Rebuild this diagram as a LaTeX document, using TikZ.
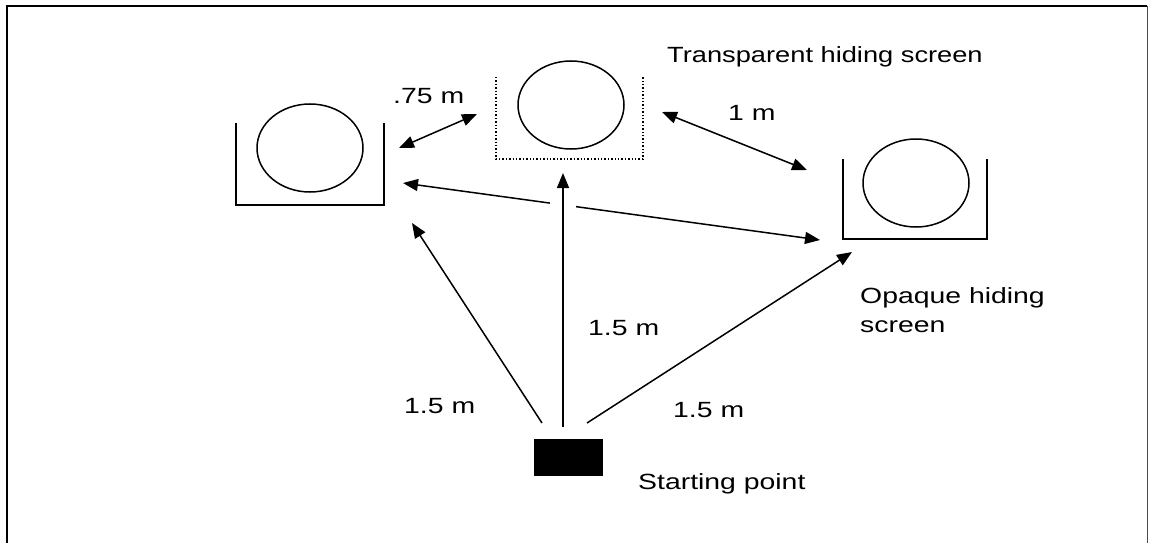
\documentclass[tikz,border=0pt]{standalone}
\usepackage{fontspec}
\setmainfont{Liberation Sans}[FakeStretch=1.29]
\usetikzlibrary{arrows.meta,shapes.geometric}
\begin{document}
\begin{tikzpicture}[x=1pt,y=-1pt,
  lbl/.style={anchor=base west, inner sep=0pt, font=\fontsize{22}{29}\selectfont},
  ball/.style={ellipse, draw, line width=1.5pt, minimum width=106pt, minimum height=88pt, inner sep=0pt},
  wall/.style={line width=1.5pt},
  dist/.style={line width=1.5pt, {Triangle[length=15pt,width=12pt]}-{Triangle[length=15pt,width=12pt]}},
  walk/.style={line width=1.5pt, -{Triangle[length=15pt,width=12pt]}},
]
\useasboundingbox (0,0) rectangle (1149,543);

% outer frame, open at the bottom
\draw[line width=1.8pt] (7,543) -- (7,6) -- (1147,6);
\draw[line width=1pt, black!70] (1147,6) -- (1147,543);

% balls
\node[ball] (bl) at (310,148) {};
\node[ball] (bm) at (571,105) {};
\node[ball] (br) at (916,183) {};

% opaque screens
\draw[wall] (236,123) -- (236,205) -- (384,205) -- (384,123);
\draw[wall] (843,159) -- (843,239) -- (987,239) -- (987,159);
% transparent screen
\draw[line width=1.4pt, dash pattern=on 1.4pt off 2pt] (496,77) -- (496,159) -- (643,159) -- (643,77);

% starting point
\node[fill=black, minimum width=69pt, minimum height=37pt, inner sep=0pt, anchor=north west] (st) at (534,439) {};

% arrow end points
\coordinate (aL) at (399,148);
\coordinate (aM) at (477,114);
\coordinate (bM) at (662,112);
\coordinate (bR) at (807,170);
\coordinate (cL) at (403,183);
\coordinate (cR) at (820,240);
\coordinate (s1) at (542,423);
\coordinate (t1) at (412,223);
\coordinate (s2) at (563,427);
\coordinate (t2) at (563,173);
\coordinate (s3) at (587,423);
\coordinate (t3) at (852,252);

% distances between screens
\draw[dist] (aL) -- (aM);
\draw[dist] (bM) -- (bR);
\draw[dist] (cL) -- (cR);

% paths from the starting point
\draw[walk, preaction={draw=white, line width=26pt, arrows=-}] (s2) -- (t2);
\draw[walk] (s1) -- (t1);
\draw[walk] (s3) -- (t3);

% labels
\node[lbl] (ltr) at (667,63) {\scalebox{0.96}[1]{Transparent hiding screen}};
\node[lbl] (l75) at (393,103) {.75 m};
\node[lbl] (l1) at (728,120) {1 m};
\node[lbl] (lop1) at (860,303) {Opaque hiding};
\node[lbl] (lop2) at (860,332) {screen};
\node[lbl] (lmid) at (588,335) {1.5 m};
\node[lbl] (llft) at (404,413) {1.5 m};
\node[lbl] (lrgt) at (673,417) {1.5 m};
\node[lbl] (lst) at (638,489) {Starting point};
\end{tikzpicture}
\end{document}
